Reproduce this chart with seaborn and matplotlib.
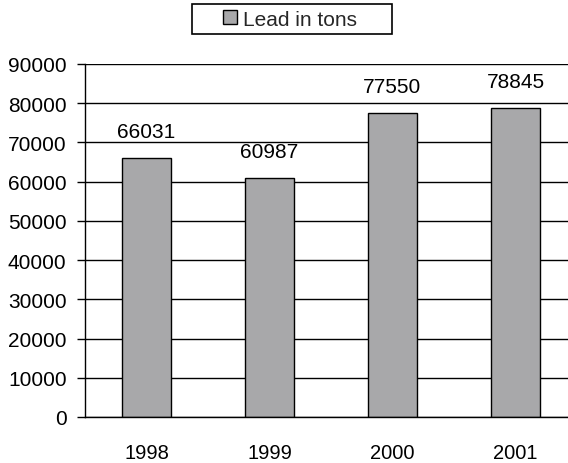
import matplotlib
matplotlib.use("Agg")
import matplotlib.pyplot as plt
import matplotlib.patches as mpatches
import seaborn as sns
import pandas as pd

years = ["1998", "1999", "2000", "2001"]
lead_tons = [66031, 60987, 77550, 78845]
y_ticks = [0, 10000, 20000, 30000, 40000, 50000, 60000, 70000, 80000, 90000]
series_name = "Lead in tons"

sns.set_theme(style="white")
plt.rcParams["font.family"] = ["Liberation Sans", "DejaVu Sans"]

df = pd.DataFrame({"year": years, "tons": lead_tons})

fig = plt.figure(figsize=(5.68, 4.64), dpi=100)
ax = fig.add_axes([85 / 568, 46 / 464, 492 / 568, 353 / 464])

sns.barplot(data=df, x="year", y="tons", color="#a8a8aa", saturation=1,
            width=0.4, edgecolor="black", linewidth=1, label=series_name, ax=ax)

ax.set_ylim(0, 90000)
ax.set_yticks(y_ticks)
ax.set_yticklabels([str(v) for v in y_ticks])
ax.set_axisbelow(True)
ax.yaxis.grid(True, color="black", linewidth=1)
ax.xaxis.grid(False)

for side in ("top", "right"):
    ax.spines[side].set_visible(False)
ax.spines["left"].set_color("black")
ax.spines["left"].set_linewidth(1)
ax.spines["bottom"].set_color("black")
ax.spines["bottom"].set_linewidth(1)

ax.tick_params(axis="y", left=True, length=5.8, width=1, color="black",
               pad=7.5, labelsize=15, labelcolor="black")
ax.tick_params(axis="x", bottom=False, length=0, pad=19, labelsize=14.5,
               labelcolor="black")
ax.set_xlabel("")
ax.set_ylabel("")

for i, v in enumerate(lead_tons):
    ax.annotate(str(v), xy=(i, v), xytext=(0, 12), textcoords="offset points",
                ha="center", va="bottom", fontsize=15, color="black")

# legend entry without its own frame, boxed by a wider rectangle
handles, labels = ax.get_legend_handles_labels()
leg = fig.legend(handles, labels, loc="center", bbox_to_anchor=(290 / 568, 1 - 20 / 464),
                 frameon=False, fontsize=15,
                 handlelength=0.65, handleheight=0.65, handletextpad=0.3,
                 borderpad=0, borderaxespad=0)
if ax.get_legend() is not None:
    ax.get_legend().remove()
fig.add_artist(mpatches.Rectangle((192 / 568, 1 - 35 / 464), 200 / 568, 30 / 464,
                                  transform=fig.transFigure, fill=False,
                                  edgecolor="black", linewidth=1.2))

fig.savefig("out.png", dpi=100)
